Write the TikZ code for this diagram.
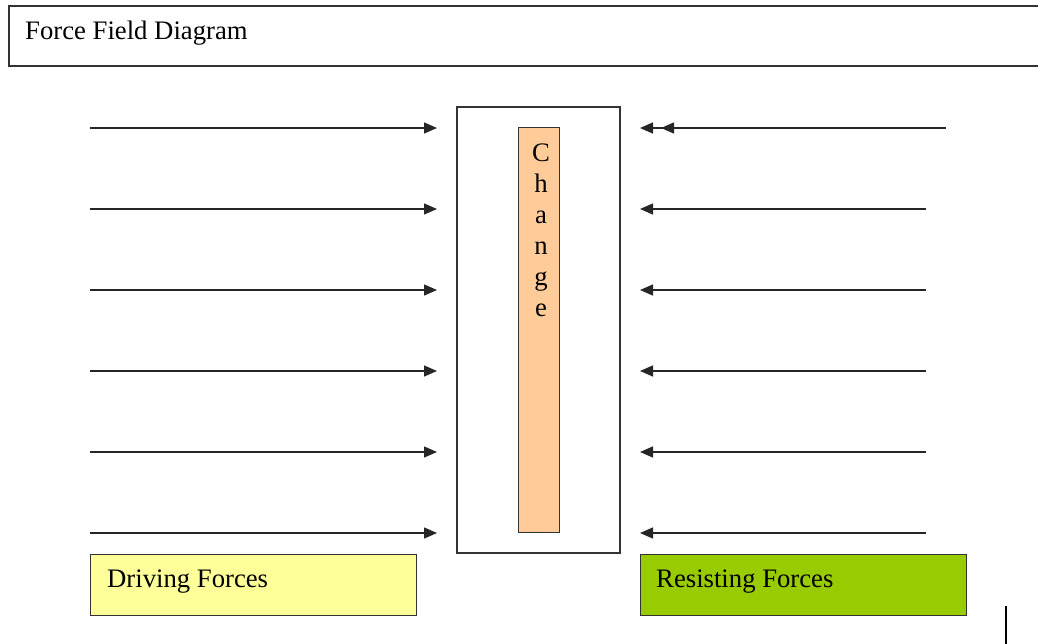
\documentclass[tikz,border=0pt]{standalone}
\usepackage{fontspec}
\setmainfont{Liberation Serif}
\usetikzlibrary{arrows.meta}
\definecolor{peach}{HTML}{FFCC99}
\definecolor{paleyellow}{HTML}{FFFF99}
\definecolor{leafgreen}{HTML}{99CC00}
\definecolor{edge}{HTML}{333333}
\begin{document}
\begin{tikzpicture}[x=1pt,y=-1pt,
  boxline/.style={draw=edge,line width=1.3pt},
  label/.style={font=\fontsize{26.7}{31}\selectfont,anchor=base west,inner sep=0pt},
  letter/.style={font=\fontsize{26.7}{31}\selectfont,anchor=base,inner sep=0pt},
  force/.style={draw=black!85,line width=1.4pt,-{Triangle[length=13pt,width=11pt]}},
  doubleforce/.style={draw=black!85,line width=1.4pt,
    -{Triangle[length=13pt,width=11pt,sep=8pt]Triangle[length=13pt,width=11pt]}}]
\useasboundingbox (0,0) rectangle (1038,643);
% title banner, running off the right edge
\draw[boxline] (1045,6) -- (9,6) -- (9,66) -- (1045,66);
\node[label] (title) at (25,39) {Force Field Diagram};
% the change column
\draw[boxline] (457,107) rectangle (620,553);
\node[boxline,fill=peach,minimum width=41pt,minimum height=405pt,inner sep=0pt,anchor=north west] (bar) at (518,127) {};
\foreach \c [count=\i] in {C,h,a,n,g,e}{
  \node[letter] (change\i) at (541,130+31*\i) {\c};
}
% driving forces (left to right)
\foreach \y [count=\i] in {128,209,290,371,452,533}{
  \coordinate (ds\i) at (90,\y);
  \coordinate (de\i) at (437,\y);
  \draw[force] (ds\i) -- (de\i);
}
% resisting forces (right to left)
\coordinate (rs1) at (946,128);
\coordinate (re1) at (640,128);
\draw[doubleforce] (rs1) -- (re1);
\foreach \y [count=\i from 2] in {209,290,371,452,533}{
  \coordinate (rs\i) at (926,\y);
  \coordinate (re\i) at (640,\y);
  \draw[force] (rs\i) -- (re\i);
}
% legend boxes
\node[boxline,fill=paleyellow,minimum width=326pt,minimum height=61pt,inner sep=0pt,anchor=north west] (driving) at (90,554) {};
\node[label] (drivingtext) at (107,587) {Driving Forces};
\node[boxline,fill=leafgreen,minimum width=326pt,minimum height=61pt,inner sep=0pt,anchor=north west] (resisting) at (640,554) {};
\node[label] (resistingtext) at (656,587) {Resisting Forces};
% cursor bar
\draw[line width=2.2pt] (1006,606) -- (1006,645);
\end{tikzpicture}
\end{document}
